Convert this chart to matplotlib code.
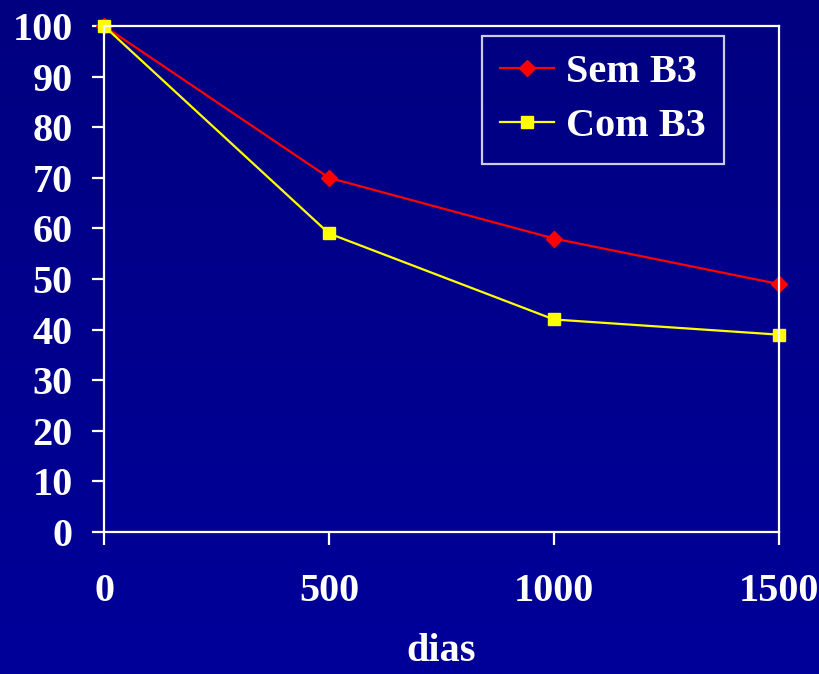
import numpy as np
import matplotlib.pyplot as plt
from matplotlib.colors import LinearSegmentedColormap

dias = [0, 500, 1000, 1500]
sem_b3 = [100, 70, 58, 49]
com_b3 = [100, 59, 42, 39]

plt.rcParams['font.family'] = ['Liberation Serif', 'DejaVu Serif']
plt.rcParams['font.weight'] = 'bold'

fig = plt.figure(figsize=(8.19, 6.74), dpi=100)

# navy gradient behind everything
bg = fig.add_axes([0, 0, 1, 1], zorder=-10)
grad = np.linspace(0, 1, 256).reshape(-1, 1)
bg.imshow(grad, aspect='auto', extent=[0, 1, 0, 1],
          cmap=LinearSegmentedColormap.from_list('bg', ['#000080', '#00009a']))
bg.axis('off')

ax = fig.add_axes([104 / 819, 1 - 532 / 674, 675 / 819, 506 / 674])
ax.patch.set_alpha(0)

ax.plot(dias, sem_b3, color='#ff0000', lw=1.6, marker='D', ms=8, label='Sem B3', clip_on=False)
ax.plot(dias, com_b3, color='#ffff00', lw=1.6, marker='s', ms=8.5, label='Com B3', clip_on=False)

ax.set_xlim(0, 1500)
ax.set_ylim(0, 100)
ax.set_xticks(dias)
ax.set_yticks(range(0, 101, 10))
for s in ax.spines.values():
    s.set_color('white')
    s.set_linewidth(1.6)
ax.tick_params(axis='y', colors='white', labelsize=29, length=8.6, width=1.6, pad=14)
ax.tick_params(axis='x', colors='white', labelsize=29, length=9.4, width=1.6, pad=20)
for lab in ax.get_xticklabels() + ax.get_yticklabels():
    lab.set_fontweight('bold')

ax.set_xlabel('dias', color='white', fontsize=29, fontweight='bold', labelpad=17)

leg = ax.legend(loc='upper right', bbox_to_anchor=((724 - 104) / 675, 1 - 10 / 506),
                fontsize=29, frameon=True, fancybox=False, handlelength=1.35,
                borderpad=0.45, labelspacing=0.42, handletextpad=0.3, borderaxespad=0)
leg.get_frame().set_facecolor('none')
leg.get_frame().set_edgecolor('white')
leg.get_frame().set_linewidth(1.6)
for t in leg.get_texts():
    t.set_color('white')
    t.set_fontweight('bold')

fig.savefig('out.png', dpi=100)
